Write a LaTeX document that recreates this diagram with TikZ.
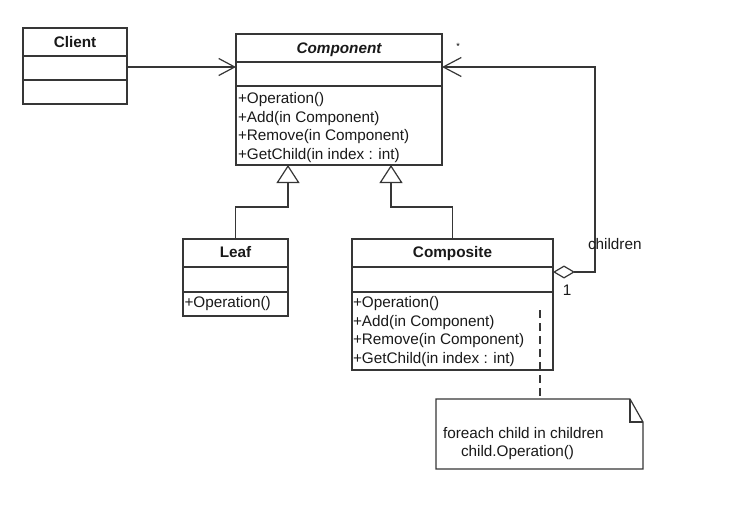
\documentclass[tikz,border=0pt]{standalone}
\usepackage{fontspec}
\setmainfont{Liberation Sans}
\usetikzlibrary{arrows.meta}
\definecolor{linec}{HTML}{363636}
\begin{document}
\begin{tikzpicture}[x=1pt,y=-1pt,
  box/.style={draw=linec, line width=1.2pt, inner sep=0pt, outer sep=0pt, rectangle},
  ln/.style={draw=linec, line width=1.2pt},
  txt/.style={inner sep=0pt, outer sep=0pt, anchor=base west, font=\fontsize{15.3}{18}\selectfont, text=black!90},
  ttl/.style={inner sep=0pt, outer sep=0pt, anchor=base, font=\fontsize{15.3}{18}\selectfont\bfseries, text=black!90},
  openbarb/.style={-{Straight Barb[length=16pt,width=17pt]}},
  inherit/.style={-{Triangle[open,fill=white,length=18pt,width=23pt]}},
]
\useasboundingbox (0,0) rectangle (746,524);

% Client
\node[box, minimum width=104pt, minimum height=76pt] (client) at (75,66) {};
\draw[ln] ([yshift=-28pt]client.north west) -- ([yshift=-28pt]client.north east);
\draw[ln] ([yshift=-52pt]client.north west) -- ([yshift=-52pt]client.north east);
\node[ttl] (clientT) at (75,47.3) {Client};

% Component
\node[box, minimum width=206pt, minimum height=131pt] (component) at (339,99.5) {};
\draw[ln] ([yshift=-28pt]component.north west) -- ([yshift=-28pt]component.north east);
\draw[ln] ([yshift=-52pt]component.north west) -- ([yshift=-52pt]component.north east);
\node[ttl, font=\fontsize{15.3}{18}\selectfont\bfseries\itshape] (componentT) at (339,53.5) {Component};
\node[txt] (cop1) at (238,103.5) {+Operation()};
\node[txt] (cop2) at (238,122) {+Add(in Component)};
\node[txt] (cop3) at (238,140.5) {+Remove(in Component)};
\node[txt] (cop4) at (238,159) {+GetChild(in index : int)};

% Leaf
\node[box, minimum width=105pt, minimum height=77pt] (leaf) at (235.5,277.5) {};
\draw[ln] ([yshift=-28pt]leaf.north west) -- ([yshift=-28pt]leaf.north east);
\draw[ln] ([yshift=-53pt]leaf.north west) -- ([yshift=-53pt]leaf.north east);
\node[ttl] (leafT) at (235.5,257.5) {Leaf};
\node[txt] (lop1) at (184.5,307.5) {+Operation()};

% Composite
\node[box, minimum width=201pt, minimum height=131pt] (composite) at (452.5,304.5) {};
\draw[ln] ([yshift=-28pt]composite.north west) -- ([yshift=-28pt]composite.north east);
\draw[ln] ([yshift=-53pt]composite.north west) -- ([yshift=-53pt]composite.north east);
\node[ttl] (compositeT) at (452.5,257.5) {Composite};
\node[txt] (mop1) at (353,307.5) {+Operation()};
\node[txt] (mop2) at (353,326) {+Add(in Component)};
\node[txt] (mop3) at (353,344.5) {+Remove(in Component)};
\node[txt] (mop4) at (353,363) {+GetChild(in index : int)};

% Note
\node[inner sep=0pt, outer sep=0pt, minimum width=207pt, minimum height=70pt] (note) at (539.5,434) {};
\draw[ln, fill=white] (note.north west) -- ([xshift=-13pt]note.north east) -- ([yshift=-23pt]note.north east)
  -- (note.south east) -- (note.south west) -- cycle;
\draw[ln] ([xshift=-13pt]note.north east) |- ([yshift=-23pt]note.north east);
\node[txt] (note1) at (443,438) {foreach child in children};
\node[txt] (note2) at (461,456.7) {child.Operation()};

% Connectors
\draw[ln, openbarb] (client.east |- 0,67) -- (component.west |- 0,67);
\draw[ln, inherit] (leaf.north) |- (288,207) -- (component.south -| 288,0);
\draw[ln, inherit] (composite.north) |- (391,207) -- (component.south -| 391,0);
\coordinate (corner) at (595,67);
\draw[ln, {Diamond[open,fill=white,length=22pt,width=13pt]}-{Straight Barb[length=18pt,width=19pt]}]
  (composite.east |- 0,272) -| (corner) -- (component.east |- 0,67);
\coordinate (dashstart) at (540,310);
\draw[ln, dash pattern=on 8pt off 5pt] (dashstart) -- (note.north -| dashstart);

% Labels
\node[inner sep=0pt, anchor=base, font=\fontsize{9}{10}\selectfont] (star) at (458,50) {*};
\node[txt] (childrenL) at (588,249) {children};
\node[txt, anchor=base] (one) at (567,295) {1};
\end{tikzpicture}
\end{document}
